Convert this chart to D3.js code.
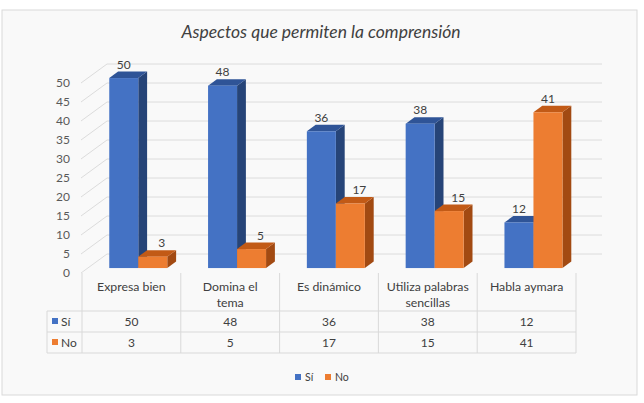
<!DOCTYPE html>
<html>
<head>
<meta charset="utf-8">
<script src="https://cdn.jsdelivr.net/npm/d3@7"></script>
<style>
  body { margin: 0; background: #fff; }
  text { font-family: Lato, "Open Sans", sans-serif; }
</style>
</head>
<body>
<svg width="644" height="403"></svg>
<script>
var categories = ["Expresa bien", "Domina el\ntema", "Es dinámico", "Utiliza palabras\nsencillas", "Habla aymara"];
var series = ["Sí", "No"];
var siValues = [50, 48, 36, 38, 12];
var noValues = [3, 5, 17, 15, 41];
var yTicks = [0, 5, 10, 15, 20, 25, 30, 35, 40, 45, 50];

var colors = {
  "Sí": { front: "#4472c4", top: "#2f5497", side: "#264478" },
  "No": { front: "#ed7d31", top: "#c25a16", side: "#a24a12" }
};

var svg = d3.select("svg");

// chart box
svg.append("rect")
    .attr("x", 2).attr("y", 10)
    .attr("width", 635).attr("height", 385)
    .attr("fill", "#f9f9f9")
    .attr("stroke", "#d9d9d9");

svg.append("text")
    .attr("x", 321).attr("y", 38)
    .attr("text-anchor", "middle")
    .attr("font-size", 17.5)
    .attr("font-style", "italic")
    .attr("fill", "#404040")
    .text("Aspectos que permiten la comprensión");

// depth of the 3d floor
var depthX = 26, depthY = 19;
var f0 = 0.26, f1 = 0.6;   // bar front / back as fraction of depth

var x = d3.scaleBand()
    .domain(categories)
    .range([82, 576]);

var x1 = d3.scaleBand()
    .domain(series)
    .range([20.5, 78.5]);

var y = d3.scaleLinear()
    .domain([0, 50])
    .range([273, 83]);

// side wall + back wall gridlines
var grid = svg.append("g").attr("class", "grid");
grid.selectAll("path")
  .data(yTicks)
  .enter().append("path")
    .attr("fill", "none")
    .attr("stroke", "#dcdcdc")
    .attr("d", function(d) {
      var yf = y(d);
      return "M81," + yf + "L" + (81 + depthX) + "," + (yf - depthY) + "L" + (576 + depthX) + "," + (yf - depthY);
    });

grid.selectAll("text")
  .data(yTicks)
  .enter().append("text")
    .attr("x", 70)
    .attr("y", function(d) { return y(d) + 4; })
    .attr("text-anchor", "end")
    .attr("font-size", 12)
    .attr("fill", "#595959")
    .text(function(d) { return d; });

// bars, drawn left to right so later faces cover side faces
var rows = [];
categories.forEach(function(c, i) {
  rows.push({ cat: c, s: "Sí", v: siValues[i], other: null });
  rows.push({ cat: c, s: "No", v: noValues[i], other: siValues[i] });
});

var bw = x1.bandwidth();
var dx = (f1 - f0) * depthX, dy = (f1 - f0) * depthY;

var bar = svg.append("g").attr("class", "bars")
  .selectAll("g")
  .data(rows)
  .enter().append("g");

function geom(d) {
  var x0 = x(d.cat) + x1(d.s) + f0 * depthX;
  var yt = y(d.v) - f0 * depthY;
  var yb = y(0) - f0 * depthY;
  return { x0: x0, yt: yt, yb: yb };
}

bar.append("path")
    .attr("fill", function(d) { return colors[d.s].side; })
    .attr("d", function(d) {
      var g = geom(d), xr = g.x0 + bw;
      return "M" + xr + "," + g.yt + "L" + (xr + dx) + "," + (g.yt - dy) +
        "L" + (xr + dx) + "," + (g.yb - dy) + "L" + xr + "," + g.yb + "Z";
    });

bar.append("path")
    .attr("fill", function(d) { return colors[d.s].top; })
    .attr("d", function(d) {
      var g = geom(d);
      return "M" + g.x0 + "," + g.yt + "L" + (g.x0 + bw) + "," + g.yt +
        "L" + (g.x0 + bw + dx) + "," + (g.yt - dy) + "L" + (g.x0 + dx) + "," + (g.yt - dy) + "Z";
    });

bar.append("rect")
    .attr("fill", function(d) { return colors[d.s].front; })
    .attr("x", function(d) { return geom(d).x0; })
    .attr("y", function(d) { return geom(d).yt; })
    .attr("width", bw)
    .attr("height", function(d) { var g = geom(d); return g.yb - g.yt; });

// labels of a short bar next to a taller one sit over its top face
bar.append("text")
    .attr("x", function(d) {
      var shift = (d.other != null && d.other > d.v) ? 9 : 0;
      return geom(d).x0 + bw / 2 + shift;
    })
    .attr("y", function(d) { return geom(d).yt - dy - 3; })
    .attr("text-anchor", "middle")
    .attr("font-size", 12)
    .attr("fill", "#404040")
    .text(function(d) { return d.v; });

// data table
var table = svg.append("g").attr("class", "table")
    .attr("stroke", "#d9d9d9")
    .attr("fill", "none");

x.domain().forEach(function(c) {
  table.append("line")
      .attr("x1", x(c)).attr("x2", x(c))
      .attr("y1", 273).attr("y2", 353);
});
table.append("line")
    .attr("x1", 576).attr("x2", 576)
    .attr("y1", 273).attr("y2", 353);
[311, 332, 353].forEach(function(yy) {
  table.append("line")
      .attr("x1", 47).attr("x2", 576)
      .attr("y1", yy).attr("y2", yy);
});
table.append("line")
    .attr("x1", 47).attr("x2", 47)
    .attr("y1", 311).attr("y2", 353);

var head = svg.append("g");
categories.forEach(function(c) {
  c.split("\n").forEach(function(line, j) {
    head.append("text")
        .attr("x", x(c) + x.bandwidth() / 2)
        .attr("y", 291 + j * 16)
        .attr("text-anchor", "middle")
        .attr("font-size", 12.3)
        .attr("fill", "#404040")
        .text(line);
  });
});

var tableRows = [
  { s: "Sí", vals: siValues, y: 326 },
  { s: "No", vals: noValues, y: 347 }
];
tableRows.forEach(function(r) {
  svg.append("rect")
      .attr("x", 52).attr("y", r.y - 8)
      .attr("width", 6).attr("height", 6)
      .attr("fill", colors[r.s].front);
  svg.append("text")
      .attr("x", 61).attr("y", r.y)
      .attr("font-size", 12)
      .attr("fill", "#404040")
      .text(r.s);
  r.vals.forEach(function(v, i) {
    svg.append("text")
        .attr("x", x(categories[i]) + x.bandwidth() / 2)
        .attr("y", r.y)
        .attr("text-anchor", "middle")
        .attr("font-size", 12)
        .attr("fill", "#404040")
        .text(v);
  });
});

// legend
var legend = svg.append("g").attr("transform", "translate(295,381)");
var lx = [0, 30];
series.forEach(function(s, i) {
  legend.append("rect")
      .attr("x", lx[i]).attr("y", -7)
      .attr("width", 6).attr("height", 6)
      .attr("fill", colors[s].front);
  legend.append("text")
      .attr("x", lx[i] + 10).attr("y", 0)
      .attr("font-size", 10.5)
      .attr("fill", "#404040")
      .text(s);
});
</script>
</body>
</html>
